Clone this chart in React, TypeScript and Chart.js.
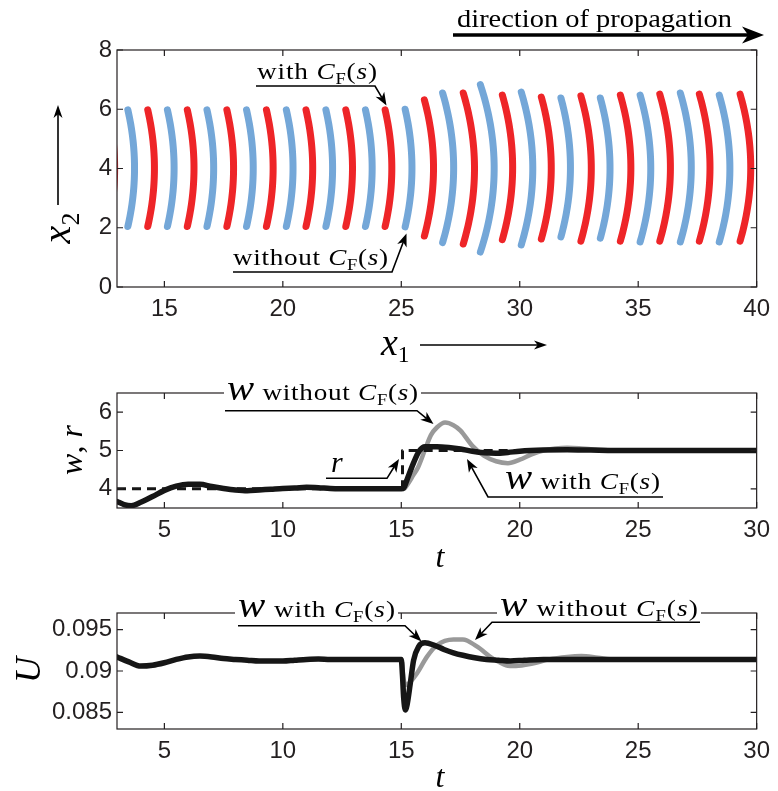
import React, { useEffect, useRef } from 'react';
import { Chart, registerables } from 'chart.js';
Chart.register(...registerables);

// ---------- top panel: wavefront arcs ----------
const arcX = [12.90, 13.74, 14.58, 15.41, 16.25, 17.08, 17.92, 18.75, 19.59, 20.43, 21.26, 22.10, 22.94, 23.77, 24.60,
  25.45, 26.36, 27.21, 28.09, 28.92, 29.70, 30.55, 31.33, 32.14, 33.02, 33.81, 34.69, 35.53, 36.36, 37.24, 38.03, 38.87, 39.75];
const arcTop = [5.98, 5.98, 5.98, 5.98, 5.98, 5.98, 5.98, 5.98, 5.98, 5.98, 5.98, 5.98, 5.98, 5.98, 5.98,
  6.0, 6.32, 6.55, 6.55, 6.83, 6.48, 6.58, 6.41, 6.38, 6.45, 6.38, 6.48, 6.48, 6.51, 6.55, 6.51, 6.48, 6.51];
const arcBottom = [2.04, 2.04, 2.04, 2.04, 2.04, 2.04, 2.04, 2.04, 2.04, 2.04, 2.04, 2.04, 2.04, 2.04, 2.04,
  2.03, 1.72, 1.50, 1.45, 1.18, 1.60, 1.42, 1.62, 1.69, 1.55, 1.65, 1.55, 1.52, 1.55, 1.52, 1.55, 1.52, 1.55];
const x1Ticks = [15, 20, 25, 30, 35, 40];
const x2Ticks = [0, 2, 4, 6, 8];

// ---------- middle panel: w, r ----------
const tTicks = [5, 10, 15, 20, 25, 30];
const wrTicks = [4, 5, 6];
const tWith = [3, 3.3, 3.6, 4.0, 4.5, 5.0, 5.5, 6.0, 6.5, 7.0, 7.5, 8.0, 8.5, 9.0, 9.5, 10, 10.5, 11, 11.5, 12, 13, 14,
  15.0, 15.1, 15.25, 15.5, 15.75, 16.0, 16.5, 17.0, 17.5, 18.0, 18.5, 19.0, 19.5, 20.0, 21.0, 22.0, 23.0, 24.0, 26, 28, 30];
const wWith = [3.67, 3.59, 3.56, 3.65, 3.8, 3.96, 4.07, 4.12, 4.12, 4.06, 4.01, 3.97, 3.95, 3.97, 3.99, 4.01, 4.02, 4.04, 4.03, 4.01, 4.0, 4.0,
  4.0, 4.02, 4.25, 4.65, 4.98, 5.1, 5.1, 5.08, 5.04, 4.98, 4.94, 4.93, 4.95, 4.98, 5.01, 5.02, 5.01, 5.0, 5.0, 5.0, 5.0];
const tWithout = [14, 15.0, 15.1, 15.3, 15.5, 15.7, 16.0, 16.25, 16.5, 16.85, 17.2, 17.5, 18.0, 18.5, 19.0, 19.5, 20.0, 20.5,
  21.0, 21.5, 22.0, 22.5, 23.0, 24, 30];
const wWithout = [4.0, 4.0, 4.0, 4.15, 4.35, 4.55, 5.02, 5.4, 5.6, 5.73, 5.66, 5.52, 5.12, 4.86, 4.72, 4.67, 4.76, 4.9,
  5.0, 5.05, 5.07, 5.06, 5.03, 5.0, 5.0];
const tRef = [3, 15.05, 15.05, 30];
const rRef = [4, 4, 5, 5];

// ---------- bottom panel: U ----------
const uTicks = [0.085, 0.09, 0.095];
const tUWith = [3, 3.5, 4.0, 4.5, 5.0, 5.5, 6.0, 6.5, 7.0, 7.5, 8.0, 8.5, 9.0, 9.5, 10, 10.5, 11, 11.5, 12, 13, 14,
  15.0, 15.05, 15.1, 15.17, 15.25, 15.38, 15.52, 15.73, 16.0, 16.4, 16.8, 17.2, 17.6, 18.1, 18.6, 19.1, 19.6, 20.2, 21, 22, 23, 25, 30];
const uWith = [0.0917, 0.0911, 0.0906, 0.0907, 0.0910, 0.0914, 0.0917, 0.0918, 0.0917, 0.0915, 0.0914, 0.0913, 0.0912, 0.0912, 0.0912, 0.0913, 0.0914, 0.09145, 0.0914, 0.0914, 0.0914,
  0.0914, 0.0895, 0.0868, 0.0853, 0.0860, 0.0885, 0.0913, 0.09295, 0.0934, 0.0931, 0.0926, 0.0922, 0.0919, 0.0916, 0.0914, 0.0913, 0.0912, 0.0913, 0.0914, 0.0914, 0.0914, 0.0914, 0.0914];
const tUWithout = [14, 15.0, 15.1, 15.2, 15.35, 15.66, 16.08, 16.5, 17.2, 17.6, 18.17, 18.87, 19.42, 19.84, 20.54, 21.23, 22.0, 22.6, 23.3, 24, 30];
const uWithout = [0.0914, 0.0914, 0.0890, 0.0883, 0.0886, 0.0897, 0.0917, 0.0931, 0.0938, 0.0938, 0.0930, 0.0915, 0.0907, 0.0906, 0.0909, 0.0914, 0.0917, 0.0918, 0.0916, 0.0914, 0.0914];

// ---------- styles ----------
const SANS = '"Liberation Sans", Arial, sans-serif';
const SERIF = '"Liberation Serif", "DejaVu Serif", serif';
const INK = '#231f20';
const RED = '#ee2528';
const BLUE = '#74a7d8';
const ARC_BEND = 0.073; // curvature of a wavefront arc (x-units per y-unit^2)

type Run = { t: string; it?: boolean; sc?: number; dy?: number };
const CF: Run[] = [{ t: 'C', it: true }, { t: 'F', sc: 0.68, dy: 0.2 }, { t: '(' }, { t: 's', it: true }, { t: ')' }];

const fontOf = (r: Run, size: number) => `${r.it ? 'italic ' : ''}${(size * (r.sc ?? 1)).toFixed(2)}px ${SERIF}`;

function richWidth(ctx: CanvasRenderingContext2D, runs: Run[], size: number) {
  let w = 0;
  for (const r of runs) { ctx.font = fontOf(r, size); w += ctx.measureText(r.t).width; }
  return w;
}
function drawRich(ctx: CanvasRenderingContext2D, runs: Run[], x: number, y: number, size: number, ls = 0) {
  let cx = 0;
  ctx.textAlign = 'left';
  ctx.textBaseline = 'alphabetic';
  for (const r of runs) {
    ctx.font = fontOf(r, size);
    for (const ch of r.t) {
      ctx.fillText(ch, x + cx, y + (r.dy ?? 0) * size);
      cx += ctx.measureText(ch).width + ls;
    }
  }
  return cx;
}
function fitText(ctx: CanvasRenderingContext2D, runs: Run[], x: number, y: number, width: number, size: number, bg = false) {
  const nat0 = richWidth(ctx, runs, size);
  const ratio = width / nat0;
  const s = size * Math.pow(ratio, 0.3);
  const nat = richWidth(ctx, runs, s);
  const sx = Math.min(width / nat, 1.14);
  const n = runs.reduce((a, r) => a + r.t.length, 0);
  const ls = (width / sx - nat) / Math.max(1, n - 1);
  if (bg) { ctx.fillStyle = '#fff'; ctx.fillRect(x - 3, y - s * 0.95, width + 6, s * 1.25); }
  ctx.save();
  ctx.translate(x, y); ctx.scale(sx, 1);
  ctx.fillStyle = '#000';
  drawRich(ctx, runs, 0, 0, s, ls);
  ctx.restore();
}
function head(ctx: CanvasRenderingContext2D, x0: number, y0: number, x1: number, y1: number, len: number, w: number) {
  const a = Math.atan2(y1 - y0, x1 - x0);
  ctx.save();
  ctx.translate(x1, y1); ctx.rotate(a);
  ctx.beginPath(); ctx.moveTo(0, 0); ctx.lineTo(-len, -w / 2); ctx.lineTo(-len * 0.72, 0); ctx.lineTo(-len, w / 2); ctx.closePath();
  ctx.fillStyle = '#000'; ctx.fill();
  ctx.restore();
}
function leader(ctx: CanvasRenderingContext2D, pts: number[][], lw = 1.6, len = 13, hw = 10) {
  ctx.strokeStyle = '#000'; ctx.lineWidth = lw; ctx.lineJoin = 'miter';
  const n = pts.length;
  const [xa, ya] = pts[n - 2]; const [xb, yb] = pts[n - 1];
  const d = Math.hypot(xb - xa, yb - ya);
  const ex = xb - (xb - xa) / d * len * 0.7, ey = yb - (yb - ya) / d * len * 0.7;
  ctx.beginPath(); ctx.moveTo(pts[0][0], pts[0][1]);
  for (let i = 1; i < n - 1; i++) ctx.lineTo(pts[i][0], pts[i][1]);
  ctx.lineTo(ex, ey); ctx.stroke();
  head(ctx, xa, ya, xb, yb, len, hw);
}

function frame(chart: any, xt: number[], yt: number[]) {
  const { ctx, chartArea: a, scales } = chart;
  ctx.save();
  ctx.strokeStyle = INK; ctx.lineWidth = 1.2;
  ctx.strokeRect(a.left, a.top, a.right - a.left, a.bottom - a.top);
  ctx.beginPath();
  for (const v of xt) {
    const p = scales.x.getPixelForValue(v);
    ctx.moveTo(p, a.bottom); ctx.lineTo(p, a.bottom - 6);
    ctx.moveTo(p, a.top); ctx.lineTo(p, a.top + 6);
  }
  for (const v of yt) {
    const p = scales.y.getPixelForValue(v);
    ctx.moveTo(a.left, p); ctx.lineTo(a.left + 6, p);
    ctx.moveTo(a.right, p); ctx.lineTo(a.right - 6, p);
  }
  ctx.stroke();
  ctx.restore();
}

function rotLabel(ctx: CanvasRenderingContext2D, runs: Run[], bx: number, cy: number, size: number) {
  const w = richWidth(ctx, runs, size);
  ctx.save(); ctx.translate(bx, cy + w / 2); ctx.rotate(-Math.PI / 2);
  ctx.fillStyle = '#000'; drawRich(ctx, runs, 0, 0, size);
  ctx.restore();
}
function centerLabel(ctx: CanvasRenderingContext2D, runs: Run[], cx: number, by: number, size: number) {
  const w = richWidth(ctx, runs, size);
  ctx.fillStyle = '#000'; drawRich(ctx, runs, cx - w / 2, by, size);
}

function makeOptions(T: number, B: number, H: number, xmin: number, xmax: number, ymin: number, ymax: number,
  xt: number[], yt: number[], deco: (ctx: CanvasRenderingContext2D) => void, oy: number) {
  const tickFont = { family: SANS, size: 24 };
  return {
    options: {
      responsive: false, animation: false, devicePixelRatio: 1, events: [],
      layout: { padding: { top: T, left: 0, right: 15, bottom: 0 } },
      plugins: { legend: { display: false }, tooltip: { enabled: false } },
      elements: { point: { radius: 0 }, line: { borderJoinStyle: 'round', borderCapStyle: 'round' } },
      scales: {
        x: {
          type: 'linear', min: xmin, max: xmax,
          afterBuildTicks: (s: any) => { s.ticks = xt.map(v => ({ value: v })); },
          afterFit: (s: any) => { s.height = H - B; },
          grid: { display: false, drawTicks: false }, border: { display: false },
          ticks: { autoSkip: false, maxRotation: 0, padding: 8, font: tickFont, color: INK, callback: (v: any) => String(v) },
        },
        y: {
          type: 'linear', min: ymin, max: ymax,
          afterBuildTicks: (s: any) => { s.ticks = yt.map(v => ({ value: v })); },
          afterFit: (s: any) => { s.width = 117; },
          grid: { display: false, drawTicks: false }, border: { display: false },
          ticks: { autoSkip: false, padding: 5, font: tickFont, color: INK, callback: (v: any) => String(v) },
        },
      },
    },
    plugins: [{
      id: 'deco',
      afterDraw(chart: any) {
        frame(chart, xt, yt);
        const ctx = chart.ctx as CanvasRenderingContext2D;
        ctx.save(); ctx.translate(0, -oy); deco(ctx); ctx.restore();
      },
    }],
  };
}

const pts = (xs: number[], ys: number[]) => xs.map((x, i) => ({ x, y: ys[i] }));

export default function App() {
  const r1 = useRef<HTMLCanvasElement>(null);
  const r2 = useRef<HTMLCanvasElement>(null);
  const r3 = useRef<HTMLCanvasElement>(null);

  useEffect(() => {
    // top chart
    const arcSets = arcX.map((xv, i) => {
      const yc = (arcTop[i] + arcBottom[i]) / 2;
      const data: { x: number; y: number }[] = [];
      for (let j = 0; j <= 30; j++) {
        const y = arcBottom[i] + (arcTop[i] - arcBottom[i]) * j / 30;
        const dy = y - yc;
        data.push({ x: xv - ARC_BEND * dy * dy, y });
      }
      return { data, borderColor: i % 2 === 0 ? RED : BLUE, borderWidth: 7, borderCapStyle: 'round', pointRadius: 0, clip: 0, tension: 0.3 };
    });
    const o1 = makeOptions(50, 287, 370, 13, 40, 0, 8, x1Ticks, x2Ticks, (ctx) => {
      fitText(ctx, [{ t: 'direction of propagation' }], 457, 27, 275, 25);
      ctx.strokeStyle = '#000'; ctx.lineWidth = 3.3;
      ctx.beginPath(); ctx.moveTo(453, 35); ctx.lineTo(748, 35); ctx.stroke();
      head(ctx, 453, 35, 764, 35, 22, 17);
      fitText(ctx, [{ t: 'with ' }, ...CF], 257, 79, 120, 22);
      leader(ctx, [[256, 86], [375, 86], [386.5, 105.5]]);
      fitText(ctx, [{ t: 'without ' }, ...CF], 233, 265, 155, 22);
      leader(ctx, [[233, 272], [392, 272], [406.5, 233.5]]);
      rotLabel(ctx, [{ t: 'x', it: true }, { t: '2', sc: 0.65, dy: 0.22 }], 70, 228, 40);
      ctx.lineWidth = 1.6; ctx.beginPath(); ctx.moveTo(58, 205); ctx.lineTo(58, 112); ctx.stroke();
      head(ctx, 58, 205, 58, 105, 13, 9);
      ctx.fillStyle = '#000';
      drawRich(ctx, [{ t: 'x', it: true }, { t: '1', sc: 0.62, dy: 0.18 }], 381, 355, 38);
      ctx.lineWidth = 1.6; ctx.beginPath(); ctx.moveTo(420, 345); ctx.lineTo(540, 345); ctx.stroke();
      head(ctx, 420, 345, 547, 345, 13, 9);
    }, 0);
    const c1 = new Chart(r1.current!, { type: 'line', data: { datasets: arcSets as any }, ...o1 } as any);

    // middle chart
    const o2 = makeOptions(23, 138, 210, 3, 30, 3.5, 6.5, tTicks, wrTicks, (ctx) => {
      fitText(ctx, [{ t: 'w', it: true, sc: 1.5 }, { t: ' without ' }, ...CF], 227, 400, 191, 22, true);
      leader(ctx, [[225, 410.7], [417, 410.7], [433.5, 424]]);
      ctx.fillStyle = '#000'; drawRich(ctx, [{ t: 'r', it: true }], 331, 472, 30);
      leader(ctx, [[326, 478.3], [387, 478.3], [399, 459]]);
      fitText(ctx, [{ t: 'w', it: true, sc: 1.5 }, { t: ' with ' }, ...CF], 505, 489, 155, 22);
      leader(ctx, [[663, 497], [488, 497], [467, 459]]);
      rotLabel(ctx, [{ t: 'w', it: true }, { t: ', ' }, { t: 'r', it: true }], 82, 450, 32);
      centerLabel(ctx, [{ t: 't', it: true }], 440, 567, 32);
    }, 370);
    const c2 = new Chart(r2.current!, {
      type: 'line',
      data: {
        datasets: [
          { data: pts(tWith, wWith), borderColor: '#161616', borderWidth: 5.5, cubicInterpolationMode: 'monotone' },
          { data: pts(tRef, rRef), borderColor: '#161616', borderWidth: 3, borderDash: [9, 6], borderCapStyle: 'butt' },
          { data: pts(tWithout, wWithout), borderColor: '#999999', borderWidth: 4.5, cubicInterpolationMode: 'monotone' },
        ],
      },
      ...o2,
    } as any);

    // bottom chart
    const o3 = makeOptions(33, 149, 211, 3, 30, 0.083, 0.097, tTicks, uTicks, (ctx) => {
      fitText(ctx, [{ t: 'w', it: true, sc: 1.5 }, { t: ' with ' }, ...CF], 238, 617, 157, 22, true);
      leader(ctx, [[238, 625.7], [405, 625.7], [421.5, 641.5]]);
      fitText(ctx, [{ t: 'w', it: true, sc: 1.5 }, { t: ' without ' }, ...CF], 500, 616, 198, 22, true);
      leader(ctx, [[700, 622.3], [492, 622.3], [475, 640]]);
      rotLabel(ctx, [{ t: 'U', it: true }], 40, 670, 36);
      centerLabel(ctx, [{ t: 't', it: true }], 440, 787, 32);
    }, 580);
    const c3 = new Chart(r3.current!, {
      type: 'line',
      data: {
        datasets: [
          { data: pts(tUWith, uWith), borderColor: '#161616', borderWidth: 5.5, cubicInterpolationMode: 'monotone' },
          { data: pts(tUWithout, uWithout), borderColor: '#999999', borderWidth: 4.5, cubicInterpolationMode: 'monotone' },
        ],
      },
      ...o3,
    } as any);

    return () => { c1.destroy(); c2.destroy(); c3.destroy(); };
  }, []);

  return (
    <div style={{ position: 'absolute', left: 0, top: 0, width: 778, height: 791, background: '#fff' }}>
      <canvas ref={r1} width={778} height={370} style={{ position: 'absolute', left: 0, top: 0 }} />
      <canvas ref={r2} width={778} height={210} style={{ position: 'absolute', left: 0, top: 370 }} />
      <canvas ref={r3} width={778} height={211} style={{ position: 'absolute', left: 0, top: 580 }} />
    </div>
  );
}
